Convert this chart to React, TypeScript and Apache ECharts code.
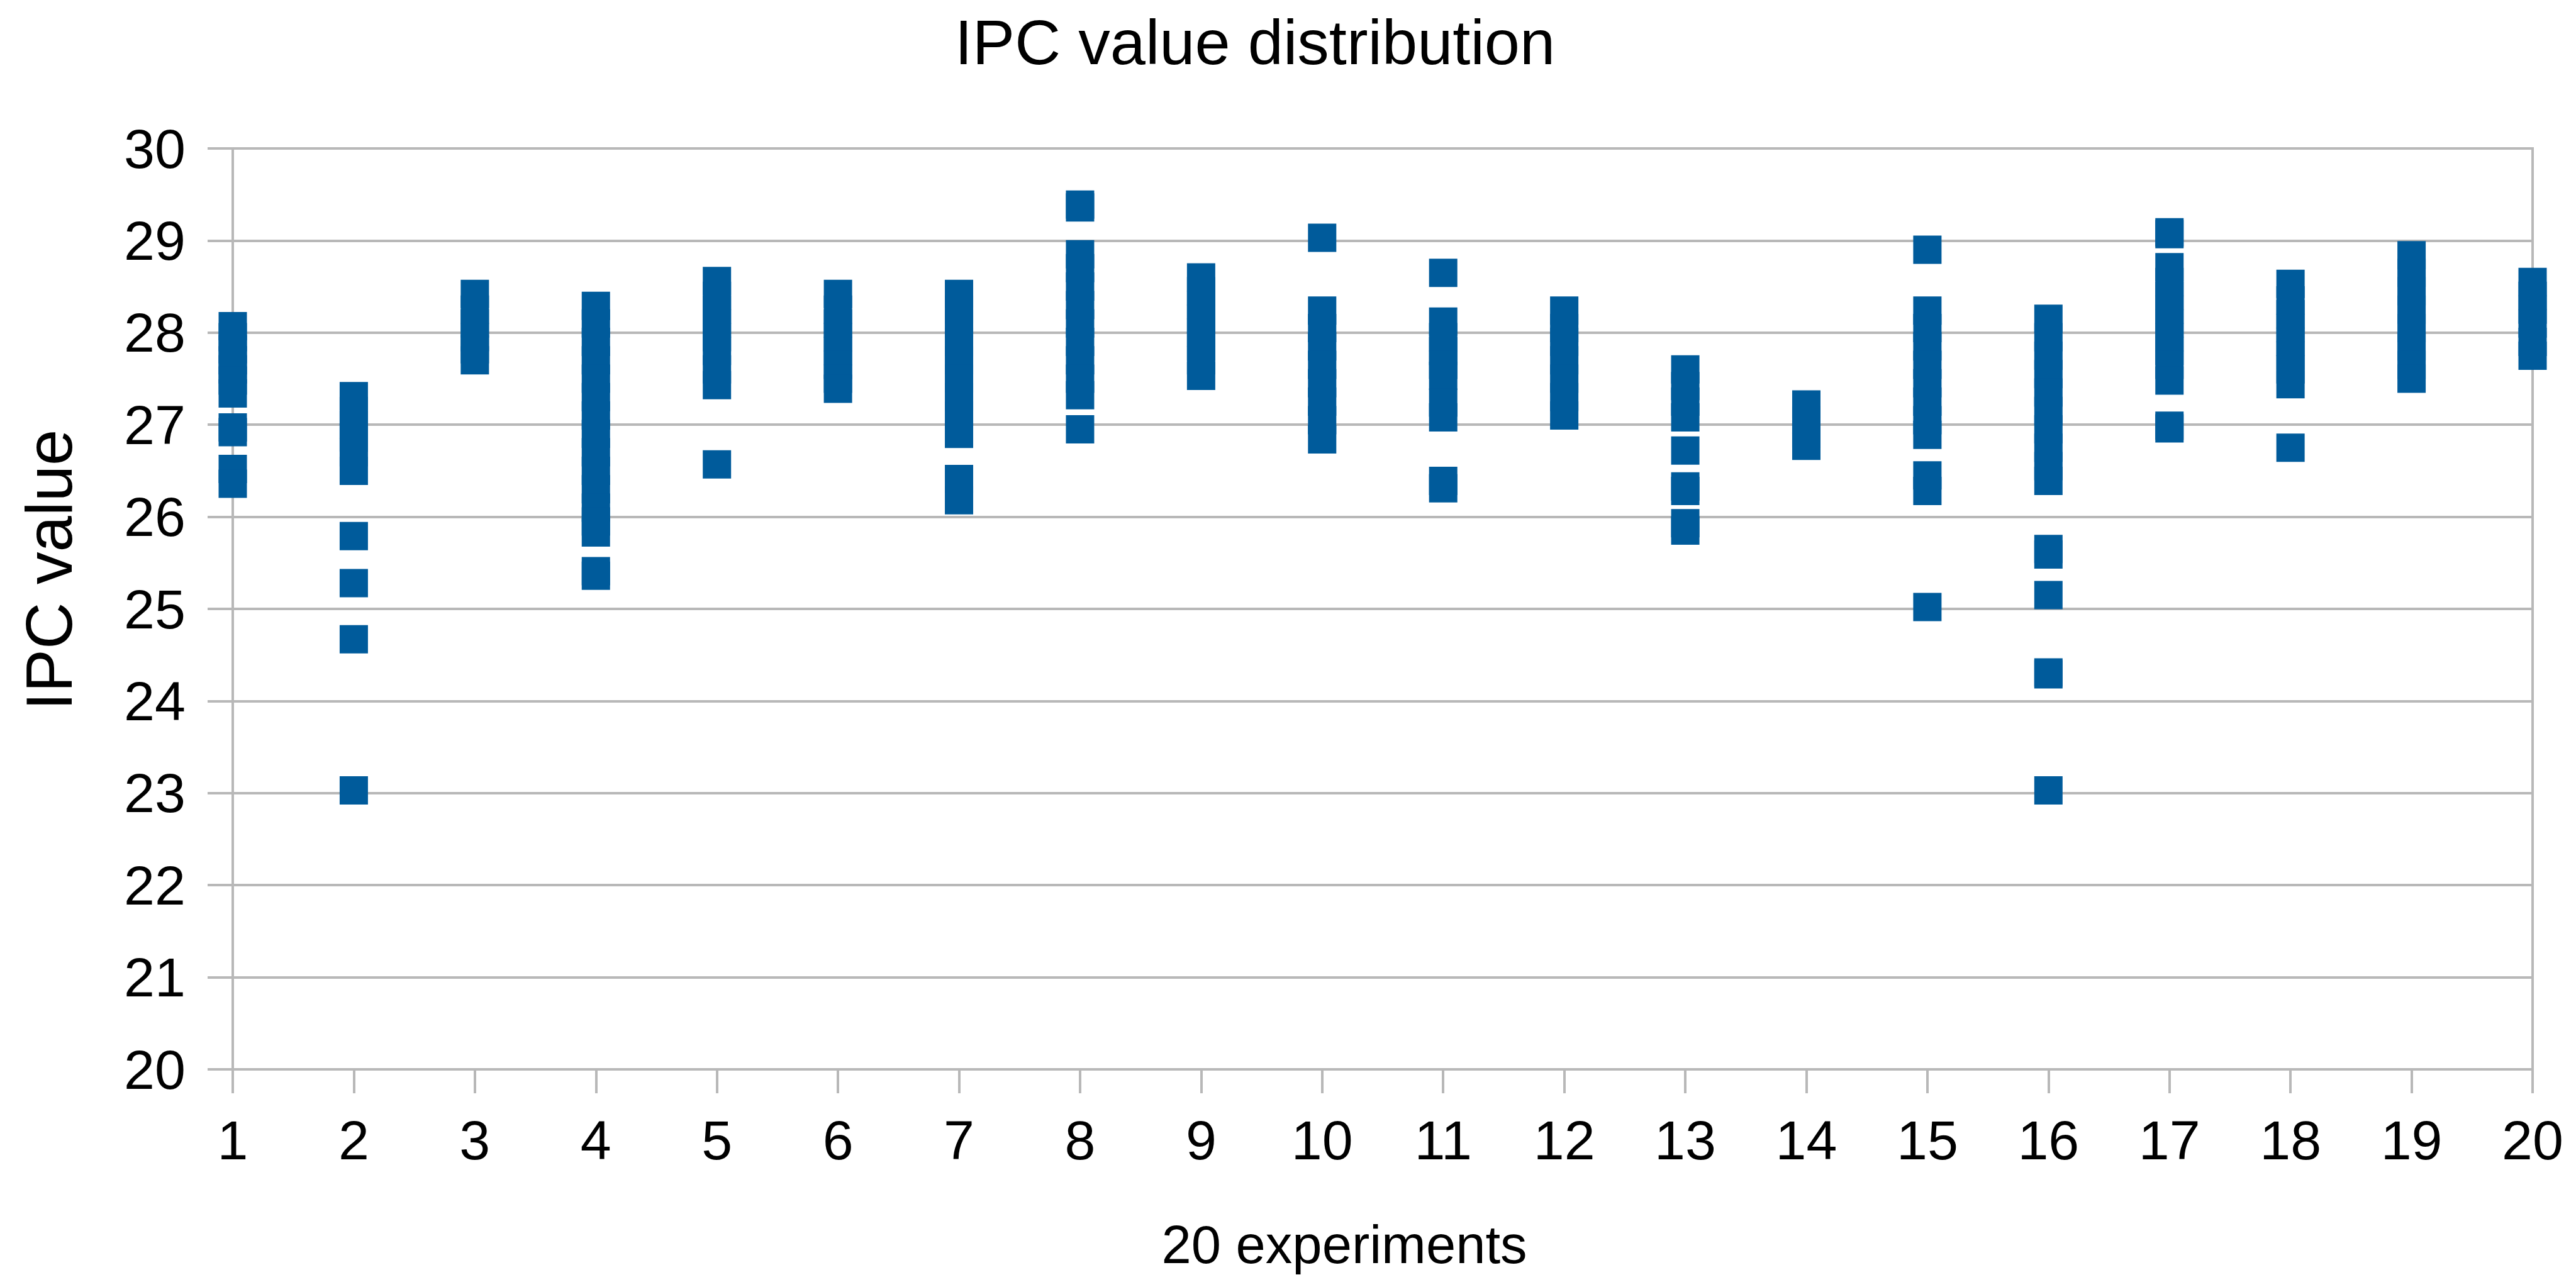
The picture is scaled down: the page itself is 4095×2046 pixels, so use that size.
import React, { useEffect, useRef } from "react";
import * as echarts from "echarts";

const titleText = "IPC value distribution";
const xAxisName = "20 experiments";
const yAxisName = "IPC value";

const experiments = [1, 2, 3, 4, 5, 6, 7, 8, 9, 10, 11, 12, 13, 14, 15, 16, 17, 18, 19, 20];

const exp1 = [28.07, 27.95, 27.82, 27.7, 27.6, 27.48, 27.34, 26.97, 26.92, 26.52, 26.36];
const exp2 = [27.31, 27.15, 27.0, 26.86, 26.7, 26.5, 25.79, 25.28, 24.67, 23.03];
const exp3 = [28.42, 28.25, 28.1, 27.95, 27.82, 27.7];
const exp4 = [28.29, 28.1, 27.9, 27.7, 27.5, 27.3, 27.1, 26.9, 26.7, 26.5, 26.3, 26.1, 25.95, 25.83, 25.41, 25.36];
const exp5 = [28.56, 28.4, 28.25, 28.1, 27.95, 27.8, 27.6, 27.43, 26.57];
const exp6 = [28.42, 28.25, 28.1, 27.95, 27.8, 27.65, 27.5, 27.39];
const exp7 = [28.42, 28.25, 28.1, 27.9, 27.7, 27.5, 27.3, 27.1, 26.9, 26.41, 26.18];
const exp8 = [29.39, 29.36, 28.85, 28.7, 28.5, 28.3, 28.1, 27.9, 27.7, 27.5, 27.32, 26.95];
const exp9 = [28.6, 28.45, 28.3, 28.15, 28.0, 27.85, 27.7, 27.53];
const exp10 = [29.03, 28.24, 28.05, 27.85, 27.65, 27.45, 27.25, 27.05, 26.84];
const exp11 = [28.65, 28.12, 27.95, 27.8, 27.65, 27.53, 27.24, 27.08, 26.39, 26.31];
const exp12 = [28.24, 28.05, 27.9, 27.7, 27.5, 27.3, 27.1];
const exp13 = [27.6, 27.42, 27.25, 27.08, 26.72, 26.33, 26.28, 25.93, 25.85];
const exp14 = [27.22, 27.05, 26.9, 26.77];
const exp15 = [28.9, 28.24, 28.05, 27.85, 27.65, 27.45, 27.25, 27.05, 26.89, 26.45, 26.28, 25.02];
const exp16 = [28.15, 27.95, 27.75, 27.55, 27.35, 27.15, 26.95, 26.75, 26.55, 26.39, 25.65, 25.59, 25.15, 24.31, 24.29, 23.03];
const exp17 = [29.09, 29.07, 28.71, 28.55, 28.4, 28.25, 28.1, 27.95, 27.8, 27.65, 27.48, 26.99, 26.96];
const exp18 = [28.53, 28.35, 28.2, 28.05, 27.9, 27.75, 27.6, 27.44, 26.75];
const exp19 = [28.84, 28.65, 28.45, 28.25, 28.05, 27.85, 27.65, 27.5];
const exp20 = [28.55, 28.4, 28.25, 28.1, 27.9, 27.75];

const valuesByExperiment = [
  exp1, exp2, exp3, exp4, exp5, exp6, exp7, exp8, exp9, exp10,
  exp11, exp12, exp13, exp14, exp15, exp16, exp17, exp18, exp19, exp20,
];

const yTicks = [20, 21, 22, 23, 24, 25, 26, 27, 28, 29, 30];

const FONT = "'Liberation Sans', Arial, sans-serif";
const GRID_COLOR = "#b8b8b8";
const MARK_COLOR = "#005b9b";

export default function App() {
  const ref = useRef<HTMLDivElement>(null);

  useEffect(() => {
    if (!ref.current) return;
    const chart = echarts.init(ref.current, null, { renderer: "svg" });

    const data: number[][] = [];
    experiments.forEach((e, i) => {
      valuesByExperiment[i].forEach((v) => data.push([e, v]));
    });

    chart.setOption({
      animation: false,
      backgroundColor: "#ffffff",
      textStyle: { fontFamily: FONT },
      grid: {
        left: 370,
        right: 69,
        top: 236,
        bottom: 346,
        show: true,
        borderColor: GRID_COLOR,
        borderWidth: 4,
        containLabel: false,
      },
      xAxis: {
        type: "value",
        min: experiments[0],
        max: experiments[experiments.length - 1],
        interval: 1,
        axisLine: { show: true, lineStyle: { color: GRID_COLOR, width: 4 } },
        axisTick: { show: true, length: 38, lineStyle: { color: GRID_COLOR, width: 4 } },
        splitLine: { show: false },
        axisLabel: {
          show: true,
          margin: 68,
          fontSize: 88,
          color: "#000000",
          fontFamily: FONT,
        },
      },
      yAxis: {
        type: "value",
        min: yTicks[0],
        max: yTicks[yTicks.length - 1],
        interval: 1,
        axisLine: { show: true, lineStyle: { color: GRID_COLOR, width: 4 } },
        axisTick: { show: true, length: 40, lineStyle: { color: GRID_COLOR, width: 4 } },
        splitLine: { show: true, lineStyle: { color: GRID_COLOR, width: 4 } },
        axisLabel: {
          show: true,
          margin: 75,
          fontSize: 88,
          color: "#000000",
          fontFamily: FONT,
        },
      },
      graphic: [
        {
          type: "text",
          x: 1995,
          y: 67,
          style: {
            text: titleText,
            font: `101px ${FONT}`,
            fill: "#000000",
            align: "center",
            verticalAlign: "middle",
          },
        },
        {
          type: "text",
          x: 2137,
          y: 1978,
          style: {
            text: xAxisName,
            font: `85px ${FONT}`,
            fill: "#000000",
            align: "center",
            verticalAlign: "middle",
          },
        },
        {
          type: "text",
          x: 78,
          y: 906,
          rotation: Math.PI / 2,
          style: {
            text: yAxisName,
            font: `103px ${FONT}`,
            fill: "#000000",
            align: "center",
            verticalAlign: "middle",
          },
        },
      ],
      series: [
        {
          type: "scatter",
          name: "IPC",
          data,
          symbol: "rect",
          symbolSize: 45,
          clip: false,
          itemStyle: { color: MARK_COLOR, opacity: 1 },
        },
      ],
    });

    return () => chart.dispose();
  }, []);

  return (
    <div
      ref={ref}
      style={{ position: "fixed", left: 0, top: 0, width: "4095px", height: "2046px", background: "#fff" }}
    />
  );
}
